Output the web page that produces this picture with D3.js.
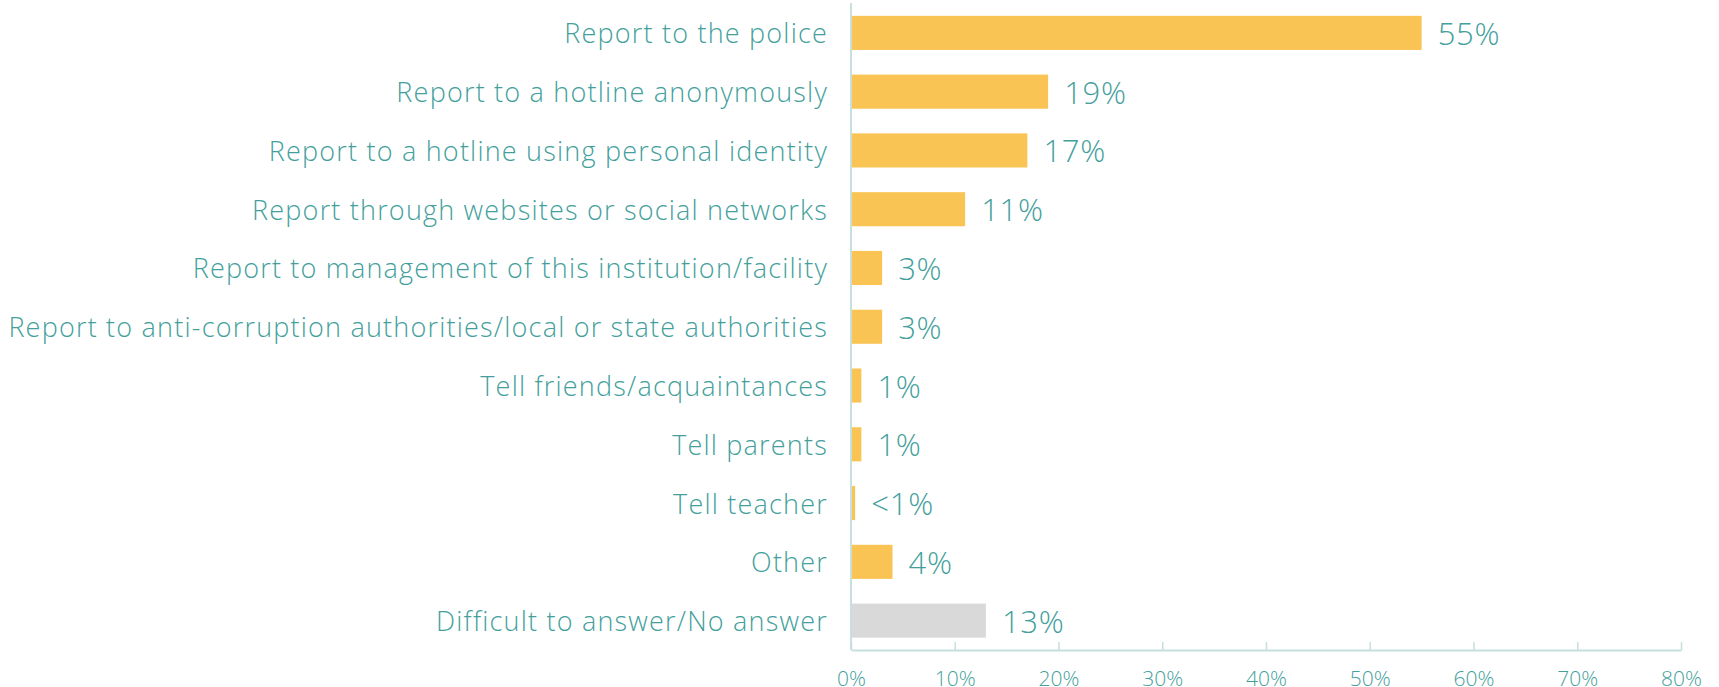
<!DOCTYPE html>
<html>
<head>
<meta charset="utf-8">
<script src="https://cdn.jsdelivr.net/npm/d3@7"></script>
<style>
  html, body { margin: 0; padding: 0; background: #fff; }
  svg { display: block; }
</style>
</head>
<body>
<div id="chart"></div>
<script>
const categories = [
    "Report to the police",
    "Report to a hotline anonymously",
    "Report to a hotline using personal identity",
    "Report through websites or social networks",
    "Report to management of this institution/facility",
    "Report to anti-corruption authorities/local or state authorities",
    "Tell friends/acquaintances",
    "Tell parents",
    "Tell teacher",
    "Other",
    "Difficult to answer/No answer"
];
const values = [55, 19, 17, 11, 3, 3, 1, 1, 0.4, 4, 13];
const valueLabels = ["55%", "19%", "17%", "11%", "3%", "3%", "1%", "1%", "<1%", "4%", "13%"];
const xTicks = [0, 10, 20, 30, 40, 50, 60, 70, 80];

const width = 1719;
const height = 687;
const textColor = "#449f9c";
const axisColor = "#c6dfdf";

const data = categories.map((c, i) => ({ name: c, value: values[i], label: valueLabels[i] }));

const svg = d3.select("#chart").append("svg")
    .attr("width", width)
    .attr("height", height)
    .style("font-family", "'Open Sans', sans-serif")
    .style("font-weight", 300);

const xScale = d3.scaleLinear()
    .domain([0, 80])
    .range([851, 1681]);
const yScale = d3.scaleBand()
    .domain(categories)
    .range([3.5, 650])
    .paddingInner(0.42)
    .paddingOuter(0.21);

// bars
svg.selectAll(".bar")
    .data(data)
    .enter()
    .append("rect")
    .attr("class", "bar")
    .attr("x", xScale(0))
    .attr("y", d => yScale(d.name))
    .attr("width", d => xScale(d.value) - xScale(0))
    .attr("height", yScale.bandwidth())
    .attr("fill", d => d.name === "Difficult to answer/No answer" ? "#d9d9d9" : "#f9c453");

// vertical axis line
svg.append("line")
    .attr("x1", xScale(0))
    .attr("x2", xScale(0))
    .attr("y1", 3)
    .attr("y2", 650)
    .attr("stroke", axisColor)
    .attr("stroke-width", 2);

// x axis
const xAxis = d3.axisBottom(xScale)
    .tickValues(xTicks)
    .tickFormat(d => d + "%")
    .tickSizeInner(-8)
    .tickSizeOuter(0)
    .tickPadding(21);
const gx = svg.append("g")
    .attr("transform", "translate(0,650)")
    .call(xAxis);
gx.select(".domain").attr("stroke", axisColor).attr("stroke-width", 2);
gx.selectAll(".tick line").attr("stroke", axisColor).attr("stroke-width", 1.5);
gx.selectAll(".tick text")
    .attr("fill", textColor)
    .style("font-size", "21px")
    .style("font-family", "'Open Sans', sans-serif")
    .style("font-weight", 300);

// category labels
svg.selectAll(".cat")
    .data(data)
    .enter()
    .append("text")
    .attr("class", "cat")
    .attr("x", 828)
    .attr("y", d => yScale(d.name) + yScale.bandwidth() / 2)
    .attr("text-anchor", "end")
    .attr("dominant-baseline", "central")
    .attr("fill", textColor)
    .style("font-size", "27px")
    .style("letter-spacing", "1.2px")
    .text(d => d.name);

// value labels
svg.selectAll(".val")
    .data(data)
    .enter()
    .append("text")
    .attr("class", "val")
    .attr("x", d => xScale(d.value) + 16)
    .attr("y", d => yScale(d.name) + yScale.bandwidth() / 2)
    .attr("dominant-baseline", "central")
    .attr("fill", textColor)
    .style("font-size", "31px")
    .style("letter-spacing", "0.8px")
    .text(d => d.label);
</script>
</body>
</html>
